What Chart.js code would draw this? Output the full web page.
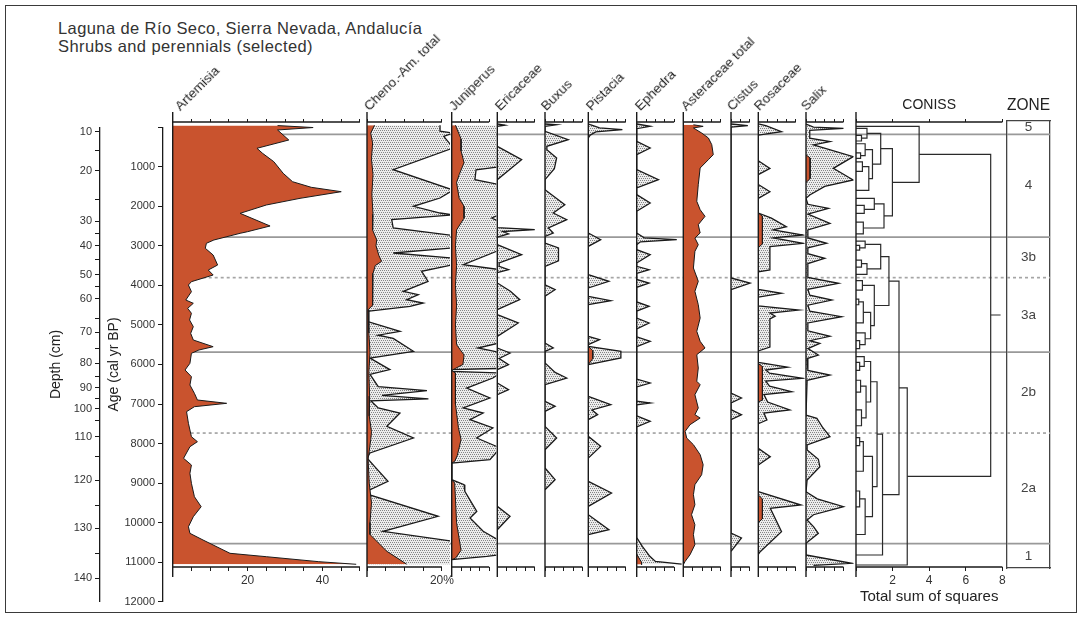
<!DOCTYPE html>
<html lang="en">
<head>
<meta charset="utf-8">
<title>Laguna de Río Seco – shrubs and perennials</title>
<script src="https://cdn.jsdelivr.net/npm/chart.js@4.4.1/dist/chart.umd.min.js"></script>
<style>
  html, body { margin: 0; padding: 0; background: #fff; }
  #fig { position: relative; width: 1083px; height: 620px; overflow: hidden; background: #fff;
         font-family: "Liberation Sans", Arial, Helvetica, sans-serif; }
  #frame { position: absolute; left: 5px; top: 5px; width: 1070px; height: 606px; border: 1.5px solid #3a3a3a; }
  #fig canvas { position: absolute; top: 0; }
  .head { position: absolute; left: 58px; top: 19px; font-size: 16.5px; line-height: 18px; letter-spacing: 0.4px;
          color: #333; white-space: nowrap; }
  .taxon { position: absolute; font-size: 13.5px; line-height: 14px; color: #222; white-space: nowrap;
           transform-origin: 0 12px; transform: rotate(-45deg); }
</style>
</head>
<body>
<div id="fig">
  <div id="frame"></div>
  <div class="head">Laguna de Río Seco, Sierra Nevada, Andalucía<br>Shrubs and perennials (selected)</div>
</div>
<script>
// ---------------------------------------------------------------
// Pollen percentages per sample: [age (cal yr BP), value]
// "...Exag" series are the exaggerated outlines drawn behind the
// percentage curves (dotted areas).
// ---------------------------------------------------------------
const artemisia = [[-40, 28], [10, 37.5], [72, 28], [325, 31], [535, 22.5], [662, 24], [873, 27], [1167, 29.5],
  [1379, 32], [1521, 37], [1632, 45], [1800, 34], [1968, 25], [2179, 18], [2499, 26], [2643, 20], [2684, 18],
  [2853, 11], [2937, 9], [3063, 8.7], [3233, 10.8], [3486, 12], [3612, 9.5], [3739, 10.8], [3907, 5], [3991, 4.2],
  [4160, 5], [4371, 3.5], [4454, 5.5], [4581, 4], [4707, 5], [4876, 4.5], [5045, 5.5], [5213, 4.8], [5382, 5.5],
  [5551, 10.8], [5635, 7], [5718, 5], [5971, 4.6], [6140, 3.3], [6310, 5], [6520, 4.6], [6730, 5.8], [6899, 6.6],
  [6983, 14.4], [7068, 5.8], [7194, 3.7], [7489, 4.2], [7827, 5], [7953, 6.6], [8080, 4.6], [8374, 2.9], [8543, 5],
  [8753, 4.6], [9006, 5], [9344, 5.8], [9597, 7.6], [9850, 5.5], [10103, 4.2], [10270, 4.6], [10439, 8.1],
  [10775, 15.3], [10861, 25], [10987, 39], [11053, 49]];

const chenoAm = [[-50, 2], [150, 1], [400, 1.5], [800, 1.2], [1200, 1.6], [1700, 1.3], [2200, 1.6], [2600, 1.5],
  [2850, 2.6], [3000, 2.4], [3250, 3.2], [3393, 3.9], [3500, 2.2], [3700, 1.6], [4200, 1.4], [4500, 1.6], [4620, 0.3],
  [5200, 0.5], [5700, 0.8], [6200, 0.5], [6800, 0.7], [7300, 0.6], [7700, 1.2], [7900, 1.0], [8400, 0.3], [9000, 0.6],
  [9500, 1.2], [10000, 0.8], [10300, 0.8], [10725, 5.3], [11050, 10.6]];
const chenoAmExag = [[-50, 19.5], [100, 19.5], [148, 23], [232, 20.5], [527, 23], [1076, 7], [1590, 23], [1792, 19.5],
  [2001, 12.4], [2171, 19.5], [2220, 23], [2340, 6.6], [2550, 7], [2740, 23], [3050, 23], [3182, 7], [3310, 23],
  [3480, 23], [3645, 14.6], [3898, 16.3], [4151, 9.7], [4235, 13.7], [4362, 10.6], [4446, 15], [4530, 11.5], [4657, 0],
  [4910, 0], [5162, 8.8], [5260, 3], [5340, 7], [5668, 12.4], [5837, 0.8], [6130, 6.1], [6250, 0.8], [6560, 3],
  [6660, 16], [6780, 4], [6870, 16.4], [6920, 1], [7101, 3], [7228, 8.8], [7565, 5.3], [7860, 12.4], [8239, 0.8],
  [8365, 0], [8576, 2], [8955, 5.6], [9207, 0], [9293, 0.5], [9840, 19], [10219, 4.3], [10472, 23], [11060, 23]];

const juniperus = [[-50, 1], [300, 2.5], [600, 2.5], [900, 3.3], [1200, 2.0], [1400, 1.3], [1800, 2.0], [2000, 3.3],
  [2300, 3.3], [2600, 1.3], [3000, 1.0], [3500, 1.3], [4000, 1.0], [4500, 1.3], [5000, 1.0], [5500, 1.3], [5760, 3.3],
  [6000, 3.0], [6100, 1.0], [6150, 0], [6220, 1], [7000, 1.0], [7600, 1.8], [7900, 2.5], [8300, 1.5], [8450, 0.8],
  [8492, 0], [8914, 0], [9000, 0.8], [10000, 1.3], [10700, 2.5], [10900, 1.0], [10936, 0]];
const juniperusExag = [[-50, 13], [1000, 13], [1080, 6.5], [1330, 6.2], [1460, 13], [2200, 13], [2297, 10.7],
  [2400, 13], [3100, 13], [3478, 3.1], [3604, 13], [5450, 13], [5584, 7], [5700, 13], [6100, 13], [6132, 0],
  [6173, 0], [6216, 13], [6343, 11], [6596, 4], [6849, 10.2], [7101, 3.1], [7228, 8.4], [7397, 4.9], [7607, 11],
  [7860, 6.7], [8113, 13], [8407, 10.2], [8492, 0], [8914, 0], [9040, 3.3], [9208, 3.5], [9713, 6.7], [9882, 4.9],
  [10219, 8.4], [10472, 13], [10810, 13], [10852, 9.4], [10936, 0]];

const ericaceaeExag = [[-80, 0], [-50, 2], [-20, 0], [485, 0], [822, 6.5], [1328, 0], [2540, 0], [2593, 10],
  [2640, 1.5], [2700, 3], [2780, 0], [2972, 0], [3224, 6.5], [3435, 0.5], [3520, 0.5], [3603, 3], [3680, 0],
  [3941, 0], [4150, 3.5], [4362, 6], [4615, 0], [4741, 0], [4952, 5.6], [5289, 0], [5584, 0], [5711, 3.4],
  [5850, 0.5], [6006, 3], [6132, 0], [6469, 0], [6638, 3], [6765, 0], [9587, 0], [9840, 3.4], [10178, 0]];

const buxusExag = [[-80, 0], [-60, 3], [-20, 0], [106, 0], [317, 6.2], [485, 0.5], [569, 0.5], [780, 3.1],
  [1050, 2.5], [1328, 0], [1581, 0], [1960, 5.3], [2171, 2.2], [2340, 5.8], [2550, 0.9], [2676, 2.2], [2761, 0],
  [2929, 0], [3056, 3.6], [3380, 3.6], [3520, 0], [3984, 0], [4110, 2.7], [4277, 0], [5458, 0], [5584, 2.2],
  [5668, 0], [5963, 0], [6200, 2.7], [6343, 5.8], [6512, 0], [6932, 0], [7059, 2.7], [7185, 0], [7565, 0],
  [7860, 3.1], [8155, 0], [8618, 0], [8914, 2.7], [9167, 0]];

const pistacia = [[5542, 0], [5650, 1.2], [5850, 1.2], [6006, 0]];
const pistaciaExag = [[-80, 0], [-62, 0.5], [20, 3], [64, 9.1], [120, 2], [200, 0.5], [274, 0], [2676, 0],
  [2845, 3.3], [3013, 0], [3730, 0], [3898, 5.5], [4067, 0], [4277, 0], [4388, 6], [4488, 0], [5289, 0], [5374, 3],
  [5500, 0], [5542, 0], [5668, 8.7], [5837, 8.7], [6006, 0], [6806, 0], [7018, 6], [7150, 1], [7270, 2.5], [7397, 0],
  [7818, 0], [8071, 3.3], [8365, 0], [8955, 0], [9251, 6.2], [9587, 0], [9799, 0], [10178, 5.5], [10304, 0]];

const ephedra = [[10800, 0], [11000, 1.3], [11060, 1.3]];
const ephedraExag = [[-80, 0], [-21, 3.6], [40, 0], [358, 0], [527, 3.6], [696, 0], [1076, 0], [1328, 5.8],
  [1539, 0], [1707, 0], [1918, 3.6], [2128, 0], [2676, 0], [2800, 2], [2845, 10.7], [2900, 1], [2972, 0], [3098, 0],
  [3224, 3.6], [3435, 0], [3520, 0], [3604, 3.3], [3700, 0], [3850, 0], [3941, 3.3], [4050, 0], [4420, 0],
  [4530, 3.3], [4650, 0], [4830, 0], [4952, 3.3], [5100, 0], [5300, 0], [5416, 3.6], [5550, 0], [6370, 0],
  [6469, 3.6], [6570, 0], [6930, 0], [6975, 3.6], [7020, 0], [7300, 0], [7438, 3.6], [7580, 0], [10380, 0],
  [10600, 1.5], [10850, 3.5], [10980, 5], [11050, 12]];

const asteraceae = [[-60, 2.7], [-20, 5.3], [20, 2.7], [148, 4.9], [274, 6.7], [443, 7.6], [696, 8], [822, 6.7],
  [1033, 4.5], [1455, 4], [1876, 3.6], [2087, 4.5], [2255, 5.8], [2466, 4], [2676, 4.5], [2803, 3.1], [2972, 4],
  [3140, 3.1], [3561, 2.7], [3898, 4], [4151, 3.1], [4489, 4], [4826, 4.5], [5163, 3.6], [5416, 4.5], [5584, 5.8],
  [5753, 3.6], [6090, 4], [6426, 3.6], [6512, 4.5], [6765, 3.1], [7101, 4], [7270, 3.1], [7354, 4.5], [7523, 1.8],
  [7691, 0.5], [7860, 0.9], [8029, 2.7], [8282, 4.5], [8535, 5.3], [8788, 4.9], [9040, 3.1], [9293, 2.7],
  [9546, 3.1], [9799, 2.2], [10052, 3.1], [10304, 2.7], [10557, 3.1], [10810, 1.8], [10978, 0.5], [11062, 0]];

const cistusExag = [[-80, 0], [-40, 4.5], [0, 0], [3814, 0], [3941, 5.1], [4109, 0], [6722, 0], [6849, 2.8],
  [6975, 0], [7144, 0], [7270, 2.8], [7397, 0], [10262, 0], [10388, 2.8], [10725, 0]];

const rosaceae = [[2171, 0], [2250, 1.1], [2950, 1.1], [3050, 0], [5980, 0], [6050, 1.1], [6900, 1.1], [6950, 0],
  [9300, 0], [9400, 1.1], [9900, 1.1], [10000, 0]];
const rosaceaeExag = [[-80, 0], [-40, 2], [114, 6.2], [200, 0], [850, 0], [1042, 3.1], [1200, 0], [1450, 0],
  [1632, 3.1], [1800, 0], [2171, 0], [2300, 3.5], [2517, 7.5], [2600, 4], [2727, 11.9], [2800, 4], [2937, 12],
  [3022, 3.1], [3612, 3.1], [3660, 0], [4100, 0], [4201, 6.2], [4300, 0], [4520, 0], [4624, 11], [4700, 3.1],
  [4780, 4.5], [4850, 3.1], [5560, 3.1], [5660, 0], [5950, 0], [6070, 7.8], [6140, 2], [6220, 3], [6351, 11.9],
  [6420, 2], [6550, 3], [6688, 8.9], [6760, 1.5], [6950, 2.5], [7152, 8.4], [7230, 1.5], [7405, 2.3], [7500, 0],
  [8120, 0], [8331, 3.2], [8542, 0], [9217, 0], [9554, 11.4], [9638, 3.2], [10229, 6.2], [10735, 0.5], [10800, 0]];

const salix = [[700, 0], [780, 1.1], [1300, 1.1], [1400, 0]];
const salixExag = [[-80, 0], [0, 2], [30, 10], [80, 1], [280, 1], [367, 6.4], [450, 2], [746, 12.6], [1042, 7.3],
  [1336, 12.6], [1500, 5], [1716, 1], [1800, 0], [1950, 0.5], [2052, 6], [2200, 0.5], [2432, 6.4], [2600, 0.5],
  [2800, 0.5], [2937, 5.5], [3050, 0.5], [3200, 0.5], [3317, 5], [3450, 0.5], [3800, 0.5], [3949, 8.7], [4100, 0.5],
  [4250, 1], [4371, 6.9], [4500, 0.5], [4650, 1], [4793, 9.5], [4950, 0.5], [5150, 0.5], [5289, 6.4], [5400, 1],
  [5467, 3.7], [5600, 0.5], [5761, 3.3], [5850, 0.3], [6150, 0.5], [6267, 6.4], [6400, 0.3], [7279, 0], [7362, 2.9],
  [7600, 4.5], [7827, 6.4], [8037, 0.3], [8163, 0.3], [8400, 3.3], [8585, 3.7], [8922, 0.3], [9217, 0], [9400, 3],
  [9597, 10], [9800, 2], [9933, 0.3], [10100, 2], [10270, 3.3], [10523, 0], [10818, 0], [11028, 12.2], [11080, 2]];

// CONISS merges: [merge height, upper age, upper branch height, lower age, lower branch height]
const conissLinks = [
  [7.36, 688, 3.45, 8831, 2.8],
  [3.45, -20, 0, 1395, 1.99],
  [1.99, 545, 1.35, 2245, 1.53],
  [1.35, 155, 0.6, 935, 0.9],
  [0.6, 30, 0, 280, 0.3], [0.3, 210, 0, 350, 0],
  [0.9, 570, 0.5, 1300, 0.7],
  [0.5, 420, 0, 720, 0.25], [0.25, 650, 0, 790, 0],
  [0.7, 1000, 0.35, 1600, 0], [0.35, 880, 0, 1120, 0],
  [1.53, 1940, 1.0, 2550, 0.4],
  [1.0, 1800, 0, 2080, 0.45], [0.45, 1980, 0, 2180, 0],
  [0.4, 2400, 0, 2700, 0],
  [2.8, 6591, 2.35, 11071, 0],
  [2.35, 3892, 1.8, 9290, 1.45],
  [1.8, 3275, 1.35, 4509, 1.0],
  [1.35, 2965, 0.5, 3585, 0.6],
  [0.5, 2880, 0, 3050, 0.2], [0.2, 2990, 0, 3110, 0],
  [0.6, 3450, 0.3, 3720, 0], [0.3, 3360, 0, 3540, 0],
  [1.0, 4000, 0.35, 5018, 0.8],
  [0.35, 3880, 0, 4120, 0],
  [0.8, 4685, 0.4, 5350, 0.5],
  [0.4, 4420, 0.15, 4950, 0], [0.15, 4350, 0, 4490, 0],
  [0.5, 5200, 0, 5500, 0.2], [0.2, 5400, 0, 5600, 0],
  [1.45, 7763, 1.15, 10818, 0],
  [1.15, 6438, 0.8, 9088, 0.9],
  [0.8, 5925, 0.45, 6950, 0.55],
  [0.45, 5800, 0, 6050, 0.2], [0.2, 5950, 0, 6150, 0],
  [0.55, 6550, 0.25, 7350, 0.3], [0.25, 6400, 0, 6700, 0], [0.3, 7150, 0, 7550, 0],
  [0.9, 8325, 0.4, 9850, 0.5],
  [0.4, 7950, 0.2, 8700, 0], [0.2, 7850, 0, 8050, 0],
  [0.5, 9400, 0.2, 10300, 0], [0.2, 9200, 0, 9600, 0]
];
const conissTick = [[7.36, 4750], [7.9, 4750]];

// Pollen zones
const zoneBounds = [184, 2780, 3805, 5690, 7735, 10530];
const zoneDashed = [false, false, true, false, true, false];
const zoneNames = ['5', '4', '3b', '3a', '2b', '2a', '1'];

// Depth scale marks (cm) and the ages they sit at
const depthMarks = [10, 15, 20, 25, 30, 35, 40, 45, 50, 55, 60, 65, 70, 75, 80, 85, 90, 95, 100, 105, 110, 115,
  120, 125, 130, 135, 140];
const depthMarkAges = [115, 578, 1101, 1817, 2373, 2685, 2998, 3359, 3738, 4034, 4345, 4834, 5180, 5592, 5964,
  6309, 6590, 6856, 7120, 7405, 7834, 8333, 8922, 9554, 10136, 10775, 11400];

// ---------------------------------------------------------------
// Layout
// ---------------------------------------------------------------
const H = 620;
const AGE_Y0 = 127.15, PX_PER_YR = 0.03955;      // shared vertical age scale
const PX_PER_PCT = 3.745;                        // shared horizontal percentage scale
const PANEL_TOP = 122, PANEL_BOTTOM = 567;
const INK = '#1a1a1a', RED = '#c9532e', ZONE_GREY = '#999';
const FONT = '"Liberation Sans", Arial, Helvetica, sans-serif';

Chart.defaults.font.family = FONT;
Chart.defaults.font.size = 11;
Chart.defaults.color = '#333';
Chart.defaults.animation = false;
Chart.defaults.events = [];
Chart.defaults.plugins.legend.display = false;
Chart.defaults.plugins.tooltip.enabled = false;

const fig = document.getElementById('fig');
const ageAtPx = px => (px - AGE_Y0) / PX_PER_YR;
const toPts = arr => arr.map(([age, v]) => ({x: v, y: age}));

function addCanvas(left, width) {
  const c = document.createElement('canvas');
  c.width = width; c.height = H;
  c.style.left = left + 'px';
  c.style.width = width + 'px';
  c.style.height = H + 'px';
  fig.appendChild(c);
  return c;
}

// fine stipple used for the exaggerated areas
function dotPattern() {
  const t = document.createElement('canvas');
  t.width = 4; t.height = 4;
  const g = t.getContext('2d');
  g.fillStyle = '#ececec'; g.fillRect(0, 0, 4, 4);
  g.fillStyle = '#858585';
  g.fillRect(0, 0, 1, 1); g.fillRect(2, 0, 1, 1);
  g.fillRect(1, 2, 1, 1); g.fillRect(3, 2, 1, 1);
  return g.createPattern(t, 'repeat');
}
const DOTS = dotPattern();

// panel frame: left rule plus top and bottom axis lines from 0 to the axis end
function frameLines(axisEnd) {
  return {
    id: 'frameLines',
    afterDatasetsDraw(chart) {
      const {ctx, chartArea: a} = chart;
      const sx = chart.scales.x;
      const p0 = sx.getPixelForValue(0), p1 = sx.getPixelForValue(axisEnd);
      ctx.save();
      ctx.strokeStyle = INK; ctx.lineWidth = 1.4;
      ctx.beginPath();
      ctx.moveTo(p0, a.top - 10); ctx.lineTo(p0, a.bottom + 10);
      ctx.moveTo(p0, a.top); ctx.lineTo(p1, a.top);
      ctx.moveTo(p0, a.bottom); ctx.lineTo(p1, a.bottom);
      ctx.stroke();
      ctx.restore();
    }
  };
}

function xAxis(position, max, tickVals, tickLength, boxHeight, label, title) {
  return {
    type: 'linear', position, min: 0, max,
    afterBuildTicks: s => { s.ticks = tickVals.map(v => ({value: v})); },
    afterFit: s => { s.height = boxHeight; },
    grid: {display: true, drawOnChartArea: false, drawTicks: true, tickLength, color: INK, lineWidth: 1},
    border: {display: false},
    ticks: {display: !!label, autoSkip: false, maxRotation: 0, padding: 2, color: '#333', font: {size: 12},
            callback: label || (() => '')},
    title: title || {display: false}
  };
}

const panels = [
  {name: 'Artemisia', x0: 172.7, xR: 360, axisEnd: 50, step: 5, labels: {20: '20', 40: '40'}, pct: artemisia, dx: 8},
  {name: 'Cheno.-Am. total', x0: 367, xR: 450, axisEnd: 20, step: 5, labels: {20: '20%'}, pct: chenoAm, exag: chenoAmExag, dx: 3},
  {name: 'Juniperus', x0: 451.7, xR: 496.3, pct: juniperus, exag: juniperusExag, dx: 3},
  {name: 'Ericaceae', x0: 497.3, xR: 543.6, exag: ericaceaeExag},
  {name: 'Buxus', x0: 545, xR: 587, exag: buxusExag, dx: 2},
  {name: 'Pistacia', x0: 588.3, xR: 635.3, pct: pistacia, exag: pistaciaExag},
  {name: 'Ephedra', x0: 636.7, xR: 682, pct: ephedra, exag: ephedraExag},
  {name: 'Asteraceae total', x0: 683.3, xR: 729.6, pct: asteraceae},
  {name: 'Cistus', x0: 731, xR: 757, axisEnd: 5, exag: cistusExag, dx: 2},
  {name: 'Rosaceae', x0: 758.3, xR: 804.6, pct: rosaceae, exag: rosaceaeExag, dx: 2},
  {name: 'Salix', x0: 806, xR: 853.6, pct: salix, exag: salixExag, dx: 1}
];

function zoneLineSets() {
  return zoneBounds.map((age, i) => ({
    data: [{x: 0, y: age}, {x: 1, y: age}],
    showLine: true, pointRadius: 0,
    borderColor: zoneDashed[i] ? '#a5a5a5' : ZONE_GREY,
    borderWidth: 1.7,
    borderDash: zoneDashed[i] ? [3, 3] : []
  }));
}

// zone boundaries running behind all panels
function buildZoneLines() {
  const x0 = 172.7, xR = 1007, left = 160;
  const width = Math.ceil(xR - left) + 6;
  new Chart(addCanvas(left, width), {
    type: 'scatter',
    data: {datasets: zoneLineSets()},
    options: {
      responsive: false,
      layout: {padding: {left: x0 - left, right: width - (xR - left), top: PANEL_TOP, bottom: H - PANEL_BOTTOM}},
      scales: {
        x: {type: 'linear', display: false, min: 0, max: 1},
        y: {type: 'linear', display: false, reverse: true, min: ageAtPx(PANEL_TOP), max: ageAtPx(PANEL_BOTTOM)}
      }
    }
  });
}

function buildPanel(p) {
  const axisEnd = p.axisEnd ?? 10, step = p.step ?? 2.5;
  const left = Math.floor(p.x0) - 12;
  const width = Math.ceil(p.xR - left) + 16;
  const max = (p.xR - p.x0) / PX_PER_PCT;
  const tickVals = [];
  for (let v = 0; v <= axisEnd + 1e-6; v += step) tickVals.push(Math.round(v * 100) / 100);
  const datasets = [];
  if (p.exag) datasets.push({data: toPts(p.exag), order: 2, fill: 'origin', backgroundColor: DOTS, borderColor: INK, borderWidth: 1.3});
  if (p.pct) datasets.push({data: toPts(p.pct), order: 1, fill: 'origin', backgroundColor: RED, borderColor: INK, borderWidth: 1});
  const topH = 4, botH = 22;
  new Chart(addCanvas(left, width), {
    type: 'line',
    data: {datasets},
    options: {
      indexAxis: 'y',
      responsive: false,
      layout: {padding: {left: p.x0 - left, right: width - (p.xR - left), top: PANEL_TOP - topH, bottom: H - PANEL_BOTTOM - botH}},
      elements: {point: {radius: 0}, line: {tension: 0, borderJoinStyle: 'miter'}},
      scales: {
        x: xAxis('bottom', max, tickVals, 4, botH, p.labels ? (v => p.labels[v] || '') : null),
        xt: xAxis('top', max, tickVals, 3, topH, null),
        y: {type: 'linear', display: false, reverse: true, min: ageAtPx(PANEL_TOP), max: ageAtPx(PANEL_BOTTOM)}
      }
    },
    plugins: [frameLines(axisEnd)]
  });
  const lab = document.createElement('div');
  lab.className = 'taxon';
  lab.textContent = p.name;
  lab.style.left = (p.x0 + (p.dx ?? 4)) + 'px';
  lab.style.top = (112 - 12) + 'px';
  fig.appendChild(lab);
}

function buildConiss() {
  const x0 = 856, unit = 18.3, hMax = 8;
  const xR = x0 + hMax * unit;
  const left = x0 - 12, width = Math.ceil(xR - left) + 16;
  const tickVals = [0, 2, 4, 6, 8];
  const style = {showLine: true, pointRadius: 0, borderColor: '#2a2a2a', borderWidth: 1.2, fill: false};
  const datasets = conissLinks.map(([h, a1, h1, a2, h2]) => ({
    ...style,
    data: [{x: h1, y: a1}, {x: h, y: a1}, {x: h, y: a2}, {x: h2, y: a2}]
  }));
  datasets.push({...style, data: conissTick.map(([h, a]) => ({x: h, y: a}))});
  const topH = 29.4, botH = 43;
  new Chart(addCanvas(left, width), {
    type: 'scatter',
    data: {datasets},
    options: {
      responsive: false,
      layout: {padding: {left: x0 - left, right: width - (xR - left), top: PANEL_TOP - topH, bottom: H - PANEL_BOTTOM - botH}},
      scales: {
        x: xAxis('bottom', hMax, tickVals, 4, botH, v => (v ? String(v) : ''),
          {display: true, text: 'Total sum of squares', color: '#222', font: {size: 15}, padding: {top: 2, bottom: 4}}),
        xt: xAxis('top', hMax, tickVals, 3, topH, null,
          {display: true, text: 'CONISS', color: '#222', font: {size: 14}, padding: {top: 4, bottom: 4}}),
        y: {type: 'linear', display: false, reverse: true, min: ageAtPx(PANEL_TOP), max: ageAtPx(PANEL_BOTTOM)}
      }
    },
    plugins: [frameLines(hMax)]
  });
}

const zoneLabelPlugin = {
  id: 'zoneLabels',
  afterDraw(chart) {
    const {ctx, chartArea: a} = chart;
    const y = chart.scales.y;
    const edges = [y.min, ...zoneBounds, y.max];
    ctx.save();
    ctx.fillStyle = '#444';
    ctx.font = '13.5px ' + FONT;
    ctx.textAlign = 'center';
    ctx.textBaseline = 'middle';
    zoneNames.forEach((n, i) => {
      ctx.fillText(n, (a.left + a.right) / 2, y.getPixelForValue((edges[i] + edges[i + 1]) / 2));
    });
    ctx.restore();
  }
};

function buildZoneColumn() {
  const x0 = 1007, xR = 1050, top = 121, bottom = 568;
  const left = x0 - 12, width = Math.ceil(xR - left) + 14;
  const topH = 28.6;
  const boxBorder = {display: true, color: '#444', width: 1.3};
  const sized = (prop, size) => s => { s[prop] = size; };
  const hidden = {grid: {display: false}, ticks: {display: false}, border: boxBorder};
  new Chart(addCanvas(left, width), {
    type: 'scatter',
    data: {datasets: zoneLineSets()},
    options: {
      responsive: false,
      layout: {padding: {left: x0 - left, right: width - (xR - left), top: top - topH, bottom: H - bottom}},
      scales: {
        x: {type: 'linear', min: 0, max: 1, position: 'bottom', afterFit: sized('height', 0), ...hidden},
        xt: {type: 'linear', min: 0, max: 1, position: 'top', afterFit: sized('height', topH), ...hidden,
             title: {display: true, text: 'ZONE', color: '#222', font: {size: 16}, padding: {top: 4, bottom: 0}}},
        y: {type: 'linear', reverse: true, min: ageAtPx(top), max: ageAtPx(bottom), position: 'left',
            afterFit: sized('width', 0), ...hidden},
        yr: {type: 'linear', reverse: true, min: ageAtPx(top), max: ageAtPx(bottom), position: 'right',
             afterFit: sized('width', 0), ...hidden}
      }
    },
    plugins: [zoneLabelPlugin]
  });
}

function buildAgeDepthAxes() {
  const left = 40, width = 130;
  const ageBottomPx = AGE_Y0 + 12000 * PX_PER_YR;
  new Chart(addCanvas(left, width), {
    type: 'scatter',
    data: {datasets: []},
    options: {
      responsive: false,
      layout: {padding: {left: 0, right: 3, top: AGE_Y0, bottom: H - ageBottomPx}},
      scales: {
        x: {type: 'linear', display: false, min: 0, max: 1},
        depth: {
          type: 'linear', axis: 'y', position: 'left', weight: 2, reverse: true, min: 0, max: 12000,
          afterFit: s => { s.width = 60; },
          afterBuildTicks: s => { s.ticks = depthMarkAges.map(v => ({value: v})); },
          ticks: {autoSkip: false, padding: 3, color: '#333', font: {size: 11},
                  callback: (v, i) => (depthMarks[i] % 10 === 0 ? String(depthMarks[i]) : '')},
          grid: {display: true, drawOnChartArea: false, tickLength: 5, color: INK},
          border: {display: true, color: INK, width: 1.3},
          title: {display: true, text: 'Depth (cm)', color: '#222', font: {size: 14}, padding: {top: 7.5, bottom: 0}}
        },
        y: {
          type: 'linear', position: 'left', weight: 1, reverse: true, min: 0, max: 12000,
          afterFit: s => { s.width = 63; },
          ticks: {autoSkip: false, stepSize: 1000, padding: 3, color: '#333', font: {size: 11},
                  callback: v => (v === 0 ? '' : String(v))},
          grid: {display: true, drawOnChartArea: false, tickLength: 5, color: INK},
          border: {display: true, color: INK, width: 1.3},
          title: {display: true, text: 'Age (cal yr BP)', color: '#222', font: {size: 14}, padding: {top: 6, bottom: 0}}
        }
      }
    }
  });
}

buildZoneLines();
panels.forEach(buildPanel);
buildConiss();
buildZoneColumn();
buildAgeDepthAxes();
</script>
</body>
</html>
